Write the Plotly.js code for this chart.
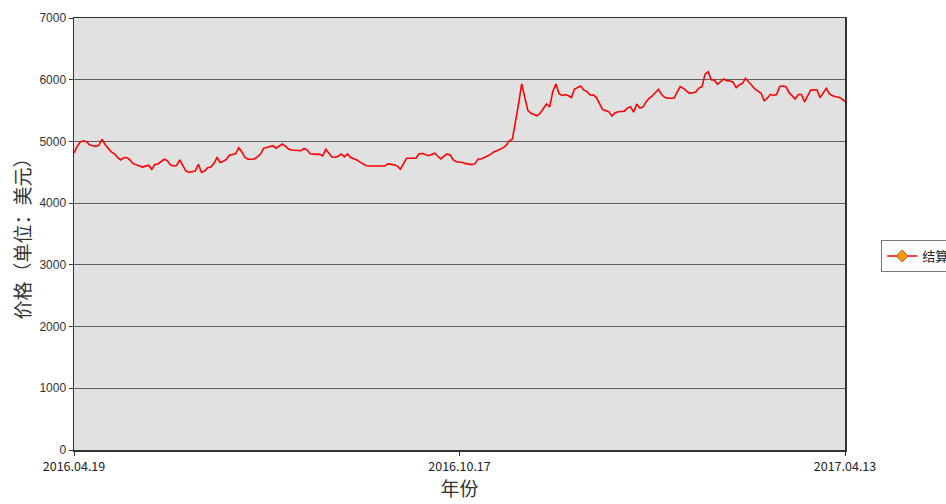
<!DOCTYPE html>
<html>
<head>
<meta charset="utf-8">
<script src="https://cdn.plot.ly/plotly-3.0.1.min.js"></script>
<style>
  html, body { margin: 0; padding: 0; background: #ffffff; }
  #chart { width: 946px; height: 504px; }
</style>
</head>
<body>
<div id="chart"></div>
<script>
// Daily settlement price (USD), trading days from 2016.04.19 to 2017.04.13
const prices = [
  4808, 4920, 4990, 5010, 4995, 4945, 4930, 4920, 4940, 5034,
  4950, 4880, 4830, 4800, 4740, 4700, 4735, 4740, 4700, 4640,
  4620, 4600, 4585, 4600, 4615, 4548, 4625, 4635, 4680, 4711,
  4690, 4620, 4602, 4610, 4700, 4620, 4520, 4500, 4510, 4520,
  4630, 4500, 4520, 4575, 4585, 4640, 4737, 4660, 4680, 4710,
  4775, 4790, 4800, 4899, 4830, 4740, 4711, 4711, 4715, 4750,
  4795, 4888, 4900, 4915, 4930, 4890, 4930, 4958, 4925, 4875,
  4860, 4855, 4850, 4850, 4885, 4860, 4800, 4791, 4790, 4795,
  4765, 4872, 4800, 4743, 4743, 4760, 4797, 4750, 4797, 4740,
  4720, 4700, 4665, 4635, 4605, 4602, 4600, 4600, 4602, 4600,
  4602, 4635, 4630, 4620, 4600, 4550, 4640, 4727, 4727, 4730,
  4727, 4800, 4805, 4790, 4770, 4790, 4808, 4760, 4716, 4760,
  4797, 4780, 4700, 4672, 4668, 4660, 4640, 4630, 4625, 4640,
  4715, 4715, 4745, 4765, 4790, 4830, 4850, 4870, 4895, 4935,
  5010, 5034, 5300, 5610, 5931, 5720, 5500, 5456, 5440, 5415,
  5460, 5540, 5607, 5560, 5807, 5931, 5775, 5745, 5760, 5740,
  5712, 5850, 5870, 5898, 5830, 5807, 5753, 5755, 5715, 5620,
  5520, 5499, 5483, 5410, 5460, 5480, 5485, 5490, 5540, 5563,
  5475, 5607, 5540, 5555, 5640, 5700, 5737, 5790, 5845, 5760,
  5715, 5700, 5699, 5699, 5800, 5887, 5860, 5820, 5780, 5790,
  5800, 5865, 5887, 6090, 6130, 6000, 5990, 5925, 5970, 6012,
  5985, 5980, 5960, 5871, 5920, 5940, 6023, 5960, 5900, 5850,
  5815, 5780, 5660, 5700, 5763, 5745, 5760, 5890, 5898, 5887,
  5790, 5730, 5688, 5760, 5760, 5640, 5750, 5834, 5836, 5834,
  5710, 5780, 5860, 5770, 5740, 5725, 5715, 5690, 5644
];

// Category-axis labels shown at the first, middle and last trading day
const tickLabels = ['2016.04.19', '2016.10.17', '2017.04.13'];
const seriesName = '结算价';

const dayIndex = prices.map((_, i) => i);
const lastIdx = prices.length - 1;
const tickPositions = [0, Math.round(lastIdx / 2), lastIdx];

const priceTrace = {
  x: dayIndex,
  y: prices,
  type: 'scatter',
  mode: 'lines',
  line: { color: '#ff0000', width: 1.6 },
  showlegend: false,
  hoverinfo: 'y'
};

// Legend entry: red line with an orange diamond marker (no plotted points)
const legendTrace = {
  x: [null],
  y: [null],
  type: 'scatter',
  mode: 'lines+markers',
  name: seriesName,
  line: { color: '#ff0000', width: 1.6 },
  marker: { symbol: 'diamond', size: 9, color: '#ff9900', line: { color: '#995500', width: 1 } },
  hoverinfo: 'skip'
};

const layout = {
  width: 946,
  height: 504,
  margin: { l: 74, r: 101, t: 18, b: 54, autoexpand: false },
  paper_bgcolor: '#ffffff',
  plot_bgcolor: '#e1e1e1',
  font: { family: 'Liberation Sans, Arial, sans-serif', size: 12, color: '#333333' },
  xaxis: {
    range: [0, lastIdx],
    tickvals: tickPositions,
    ticktext: tickLabels,
    tickangle: 0,
    ticks: 'outside',
    ticklen: 4,
    tickcolor: '#333333',
    tickfont: { family: 'Noto Sans CJK SC, sans-serif', size: 12.5, color: '#222222' },
    showgrid: false,
    zeroline: false,
    showline: true,
    linecolor: '#333333',
    linewidth: 1.5,
    mirror: true,
    title: { text: '年份', font: { family: 'Noto Sans CJK SC, sans-serif', size: 19, color: '#333333' }, standoff: 9 }
  },
  yaxis: {
    range: [0, 7000],
    tickvals: [0, 1000, 2000, 3000, 4000, 5000, 6000, 7000],
    ticks: 'outside',
    ticklen: 4,
    tickcolor: '#333333',
    tickfont: { family: 'Liberation Sans, Arial, sans-serif', size: 12, color: '#333333' },
    showgrid: true,
    gridcolor: '#5e5e5e',
    gridwidth: 1,
    zeroline: false,
    showline: true,
    linecolor: '#333333',
    linewidth: 1.5,
    mirror: true,
    title: { text: '价格（单位：美元）', font: { family: 'Noto Sans CJK SC, sans-serif', size: 19, color: '#333333' }, standoff: 3 }
  },
  legend: {
    x: 1.047,
    xanchor: 'left',
    y: 0.449,
    yanchor: 'middle',
    bgcolor: '#ffffff',
    bordercolor: '#777777',
    borderwidth: 1,
    font: { family: 'Noto Sans CJK SC, sans-serif', size: 13, color: '#222222' }
  }
};

Plotly.newPlot('chart', [priceTrace, legendTrace], layout, { staticPlot: true, displayModeBar: false });
</script>
</body>
</html>
